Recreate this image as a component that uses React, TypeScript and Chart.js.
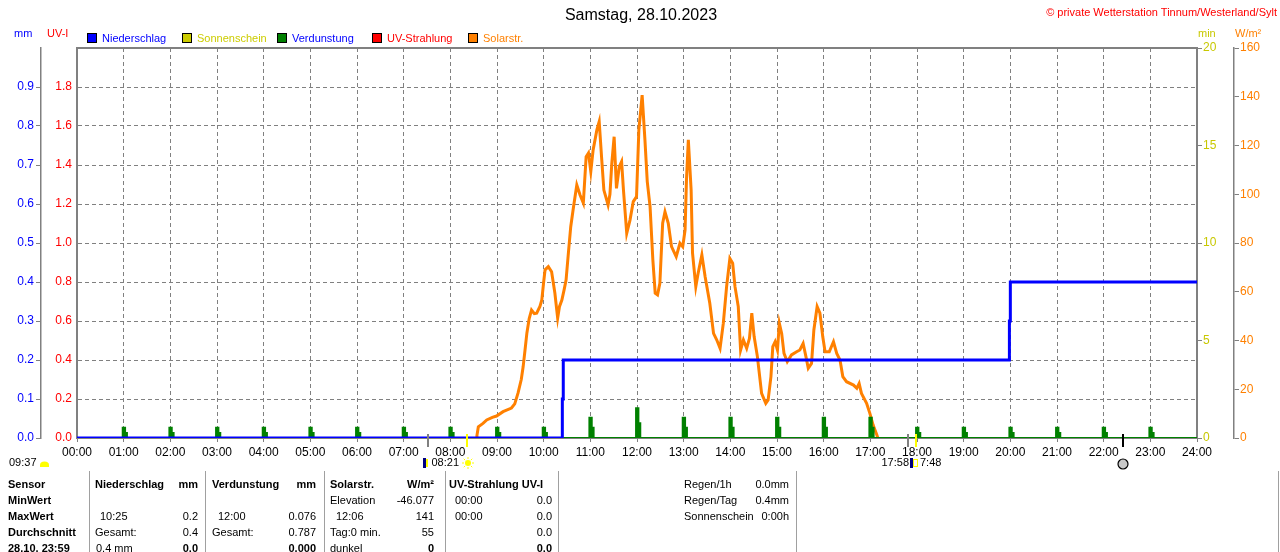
import { useEffect, useRef } from "react";
import { Chart, registerables } from "chart.js";

Chart.register(...registerables);

const FONT = "'Liberation Sans', Arial, sans-serif";

// Solarstrahlung (W/m²), Zeit in Stunden
const solarHours = [
  8.55, 8.57, 8.6, 8.7, 8.78, 8.9, 8.99, 9.13, 9.31, 9.38, 9.45, 9.52, 9.56, 9.6, 9.64, 9.69, 9.74, 9.8,
  9.85, 9.92, 9.96, 10.0, 10.03, 10.1, 10.17, 10.24, 10.3, 10.34, 10.39, 10.44, 10.48, 10.53, 10.58,
  10.64, 10.71, 10.78, 10.85, 10.91, 10.96, 11.01, 11.06, 11.14, 11.19, 11.24, 11.29, 11.33, 11.38,
  11.42, 11.46, 11.51, 11.56, 11.62, 11.67, 11.71, 11.78, 11.85, 11.92, 11.99, 12.04, 12.11, 12.17,
  12.22, 12.28, 12.34, 12.39, 12.44, 12.49, 12.55, 12.6, 12.67, 12.74, 12.84, 12.92, 12.98, 13.03,
  13.06, 13.1, 13.16, 13.19, 13.26, 13.31, 13.39, 13.46, 13.56, 13.64, 13.71, 13.78, 13.85, 13.92,
  13.99, 14.05, 14.1, 14.17, 14.22, 14.28, 14.35, 14.41, 14.46, 14.51, 14.58, 14.67, 14.76, 14.81,
  14.87, 14.91, 14.96, 15.01, 15.05, 15.1, 15.15, 15.22, 15.31, 15.42, 15.49, 15.56, 15.62, 15.67,
  15.74, 15.79, 15.86, 15.92, 15.98, 16.03, 16.12, 16.21, 16.28, 16.35, 16.41, 16.49, 16.64, 16.71,
  16.76, 16.81, 16.92, 16.99, 17.06, 17.14, 17.16,
];
const solarValues = [
  0, 1, 4.6, 6, 7.4, 8.5, 9, 10.8, 12.3, 14, 18.4, 24, 29.2, 36, 43, 49, 52.5, 51,
  51.2, 54, 56.6, 64, 69, 70.3, 68.2, 59.5, 49.2, 54, 56.6, 61, 64.8, 75.9, 86.7,
  94.9, 103.8, 99.7, 96.4, 115.4, 116.9, 109.3, 118.2, 126.4, 129.8, 115.4, 101.7, 99, 95.6,
  100, 112.7, 123.6, 102.4, 111.3, 113.4, 101.7, 84, 89.4, 97, 99, 126.4, 140.7, 122.3,
  105.2, 94.9, 73, 59.4, 58.7, 63.5, 88.1, 92.8, 88.1, 78.5, 74.4, 79.9, 78.5, 85.3,
  105.8, 122.3, 101.7, 75.8, 62.1, 67.6, 75.1, 66.2, 55.3, 42.9, 40.2, 36.8, 47.1, 62.1,
  73.7, 71.7, 62.1, 53.9, 36.1, 40.2, 36.8, 40.9, 51.2, 41.6, 33.4, 18.3, 14.2, 15.6,
  25.2, 37.5, 39.5, 36.1, 47.1, 42.9, 34.7, 31.3, 34.1, 35.4, 36.1, 38.8, 33.4, 28.6,
  30.6, 44.3, 53.9, 51.2, 41.6, 35.4, 35.4, 39.5, 34.7, 32, 25.2, 23.1, 21.7, 20.4,
  22.4, 18.3, 14.2, 10.1, 5.3, 1.2, 0,
];

// Niederschlag (mm), kumuliert
const rainHours = [0, 10.4, 10.42, 19.98, 20.0, 24];
const rainValues = [0, 0.1, 0.2, 0.3, 0.4, 0.4];

// Verdunstung (mm) je Stunde
const evapHours = [1, 2, 3, 4, 5, 6, 7, 8, 9, 10, 11, 12, 13, 14, 15, 16, 17, 18, 19, 20, 21, 22, 23];
const evapValues = [
  0.026, 0.026, 0.026, 0.026, 0.026, 0.026, 0.026, 0.026, 0.026, 0.026, 0.052, 0.076,
  0.052, 0.052, 0.052, 0.052, 0.052, 0.026, 0.026, 0.026, 0.026, 0.026, 0.026,
];

const hourLabels = [
  "00:00", "01:00", "02:00", "03:00", "04:00", "05:00", "06:00", "07:00", "08:00", "09:00",
  "10:00", "11:00", "12:00", "13:00", "14:00", "15:00", "16:00", "17:00", "18:00", "19:00",
  "20:00", "21:00", "22:00", "23:00", "24:00",
];

// Dämmerung, Sonnenauf-/untergang, Mond
const twilightHours = [7.52, 17.8];
const sunHours = [8.35, 17.97];
const moonHour = 22.41;
const dayLength = "09:37";
const sunriseText = "08:21";
const sunsetText = "17:58";
const moonText = "7:48";

const GRID = "#808080";

const sunMarks = {
  id: "sunMarks",
  afterDraw(chart: any) {
    const { ctx, chartArea, scales } = chart;
    const base = chartArea.bottom;
    const px = (h: number) => Math.round(scales.x.getPixelForValue(h));
    ctx.save();
    const tick = (h: number, color: string) => {
      ctx.strokeStyle = color;
      ctx.lineWidth = 2;
      ctx.beginPath();
      ctx.moveTo(px(h), base - 4);
      ctx.lineTo(px(h), base + 9);
      ctx.stroke();
    };
    twilightHours.forEach((h) => tick(h, GRID));
    sunHours.forEach((h) => tick(h, "#ffff00"));
    tick(moonHour, "#000000");

    const ty = 463;
    ctx.font = `11px ${FONT}`;
    ctx.fillStyle = "#000";
    ctx.textBaseline = "middle";
    ctx.textAlign = "left";
    ctx.fillText(dayLength, 9, ty);
    // kleine Wolke
    ctx.fillStyle = "#ffff00";
    ctx.beginPath();
    ctx.ellipse(44.5, 465, 4.5, 3.5, 0, Math.PI, 0);
    ctx.fill();
    ctx.fillRect(40, 465, 9, 2);

    // Sonnenaufgang
    const sr = px(sunHours[0]);
    ctx.fillStyle = "#000";
    ctx.textAlign = "right";
    ctx.fillText(sunriseText, sr - 8, ty);
    ctx.fillStyle = "#000080";
    ctx.fillRect(sr - 44, 458, 3, 10);
    ctx.fillStyle = "#ffff00";
    ctx.fillRect(sr - 41, 459, 2, 8);
    ctx.fillStyle = "#ffff00";
    ctx.beginPath();
    ctx.arc(sr + 1, ty, 3, 0, Math.PI * 2);
    ctx.fill();
    ctx.strokeStyle = "#ffff00";
    ctx.lineWidth = 1;
    for (let i = 0; i < 8; i++) {
      const a = (i * Math.PI) / 4;
      ctx.beginPath();
      ctx.moveTo(sr + 1 + Math.cos(a) * 4, ty + Math.sin(a) * 4);
      ctx.lineTo(sr + 1 + Math.cos(a) * 6, ty + Math.sin(a) * 6);
      ctx.stroke();
    }

    // Sonnenuntergang
    const ss = px(sunHours[1]);
    ctx.fillStyle = "#000";
    ctx.textAlign = "right";
    ctx.fillText(sunsetText, ss - 7, ty);
    ctx.fillStyle = "#000080";
    ctx.fillRect(ss - 6, 458, 3, 10);
    ctx.strokeStyle = "#ffff00";
    ctx.strokeRect(ss - 2.5, 459.5, 4, 7);
    ctx.fillStyle = "#000";
    ctx.textAlign = "left";
    ctx.fillText(moonText, ss + 4, ty);

    // Mond
    const mx = px(moonHour);
    ctx.fillStyle = "#c8c8c8";
    ctx.strokeStyle = "#000";
    ctx.lineWidth = 1.2;
    ctx.beginPath();
    ctx.arc(mx, 464, 5, 0, Math.PI * 2);
    ctx.fill();
    ctx.stroke();
    ctx.restore();
  },
};

function evapPoints() {
  const pts: { x: number; y: number }[] = [{ x: 0, y: 0 }];
  evapHours.forEach((h, i) => {
    const v = evapValues[i];
    pts.push({ x: h - 0.02, y: v });
    pts.push({ x: h + 0.03, y: v * 0.5 });
    pts.push({ x: h + 0.07, y: 0 });
  });
  pts.push({ x: 24, y: 0 });
  return pts;
}

function Txt(props: {
  x: number;
  y: number;
  color?: string;
  size?: number;
  bold?: boolean;
  align?: "left" | "right" | "center";
  children: any;
}) {
  const size = props.size ?? 11;
  const lh = size + 4;
  const shift = props.align === "right" ? "translateX(-100%)" : props.align === "center" ? "translateX(-50%)" : "none";
  return (
    <div
      style={{
        position: "absolute",
        left: props.x,
        top: props.y - lh / 2,
        lineHeight: `${lh}px`,
        fontSize: size,
        fontWeight: props.bold ? "bold" : "normal",
        color: props.color ?? "#000",
        whiteSpace: "nowrap",
        transform: shift,
      }}
    >
      {props.children}
    </div>
  );
}

const legendItems = [
  { label: "Niederschlag", box: "#0000ff", text: "#0000ff", x: 87 },
  { label: "Sonnenschein", box: "#cccc00", text: "#cccc00", x: 182 },
  { label: "Verdunstung", box: "#008000", text: "#0000ff", x: 277 },
  { label: "UV-Strahlung", box: "#ff0000", text: "#ff0000", x: 372 },
  { label: "Solarstr.", box: "#ff8000", text: "#ff8000", x: 468 },
];

const tableRows = [484, 500, 516, 532, 548];
const tableSeparators = [89, 205, 324, 445, 558, 796, 1278];

export default function App() {
  const canvasRef = useRef<HTMLCanvasElement | null>(null);

  useEffect(() => {
    if (!canvasRef.current) return;
    const chart = new Chart(canvasRef.current, {
      type: "line",
      data: {
        datasets: [
          {
            label: "Niederschlag",
            data: rainHours.map((h, i) => ({ x: h, y: rainValues[i] })),
            borderColor: "#0000ff",
            borderWidth: 3,
            stepped: true,
            pointRadius: 0,
            yAxisID: "yMm",
            order: 0,
          },
          {
            label: "Verdunstung",
            data: evapPoints(),
            borderColor: "#008000",
            backgroundColor: "#008000",
            borderWidth: 2,
            stepped: true,
            fill: "origin",
            pointRadius: 0,
            yAxisID: "yMm",
            order: 1,
          },
          {
            label: "Solarstr.",
            data: solarHours.map((h, i) => ({ x: h, y: solarValues[i] })),
            borderColor: "#ff8000",
            borderWidth: 3,
            pointRadius: 0,
            tension: 0,
            yAxisID: "yW",
            order: 2,
          },
        ],
      },
      options: {
        responsive: false,
        animation: false,
        layout: { padding: { top: 48, left: 0, right: 0, bottom: 0 } },
        plugins: { legend: { display: false }, tooltip: { enabled: false } },
        scales: {
          x: {
            type: "linear",
            position: "bottom",
            min: 0,
            max: 24,
            afterFit: (s: any) => {
              s.height = 34;
            },
            afterBuildTicks: (s: any) => {
              s.ticks = hourLabels.map((_, i) => ({ value: i }));
            },
            ticks: {
              autoSkip: false,
              maxRotation: 0,
              padding: 3,
              color: "#000",
              font: { family: FONT, size: 12 },
              callback: (v: any) => hourLabels[v],
            },
            grid: { color: GRID, lineWidth: 1, drawTicks: true, tickLength: 4 },
            border: { color: GRID, width: 2, dash: [4, 3] },
          },
          xTop: {
            type: "linear",
            position: "top",
            min: 0,
            max: 24,
            afterFit: (s: any) => {
              s.height = 0;
            },
            ticks: { display: false },
            grid: { display: false },
            border: { color: GRID, width: 2 },
          },
          yMm: {
            type: "linear",
            position: "left",
            weight: 2,
            min: 0,
            max: 1,
            afterFit: (s: any) => {
              s.width = 41;
            },
            ticks: {
              stepSize: 0.1,
              padding: 2,
              color: "#0000ff",
              font: { family: FONT, size: 12 },
              callback: (v: any) => (v > 0.95 ? null : Number(v).toFixed(1)),
            },
            grid: { drawOnChartArea: false, drawTicks: true, tickLength: 5, color: GRID },
            border: { color: GRID, width: 1.5 },
          },
          y: {
            type: "linear",
            position: "left",
            weight: 1,
            min: 0,
            max: 2,
            afterFit: (s: any) => {
              s.width = 36;
            },
            ticks: {
              stepSize: 0.2,
              padding: 5,
              color: "#ff0000",
              font: { family: FONT, size: 12 },
              callback: (v: any) => (v > 1.95 ? null : Number(v).toFixed(1)),
            },
            grid: { color: GRID, drawTicks: false, lineWidth: 1 },
            border: { color: GRID, width: 2, dash: [4, 3] },
          },
          yMin: {
            type: "linear",
            position: "right",
            weight: 1,
            min: 0,
            max: 20,
            afterFit: (s: any) => {
              s.width = 37;
            },
            ticks: { stepSize: 5, padding: 1, color: "#c8c800", font: { family: FONT, size: 12 } },
            grid: { drawOnChartArea: false, drawTicks: true, tickLength: 5, color: GRID },
            border: { color: GRID, width: 2 },
          },
          yW: {
            type: "linear",
            position: "right",
            weight: 2,
            min: 0,
            max: 160,
            afterFit: (s: any) => {
              s.width = 46;
            },
            ticks: { stepSize: 20, padding: 1, color: "#ff8000", font: { family: FONT, size: 12 } },
            grid: { drawOnChartArea: false, drawTicks: true, tickLength: 5, color: GRID },
            border: { color: GRID, width: 1.5 },
          },
        },
      },
      plugins: [sunMarks],
    } as any);
    return () => chart.destroy();
  }, []);

  const [r0, r1, r2, r3, r4] = tableRows;

  return (
    <div
      style={{
        position: "absolute",
        left: 0,
        top: 0,
        width: 1280,
        height: 552,
        overflow: "hidden",
        background: "#fff",
        fontFamily: FONT,
      }}
    >
      <canvas ref={canvasRef} width={1280} height={472} style={{ position: "absolute", left: 0, top: 0 }} />

      <Txt x={641} y={15} size={16} align="center">
        Samstag, 28.10.2023
      </Txt>
      <Txt x={1277} y={12} color="#ff0000" align="right">
        © private Wetterstation Tinnum/Westerland/Sylt
      </Txt>

      <Txt x={14} y={33} color="#0000ff">mm</Txt>
      <Txt x={47} y={33} color="#ff0000">UV-I</Txt>
      <Txt x={1198} y={33} color="#c8c800">min</Txt>
      <Txt x={1235} y={33} color="#ff8000">
        W/m²
      </Txt>

      {legendItems.map((it) => (
        <div key={it.label}>
          <div
            style={{
              position: "absolute",
              left: it.x,
              top: 33,
              width: 8,
              height: 8,
              background: it.box,
              border: "1px solid #000",
            }}
          />
          <Txt x={it.x + 15} y={38} color={it.text}>
            {it.label}
          </Txt>
        </div>
      ))}

      {tableSeparators.map((x) => (
        <div key={x} style={{ position: "absolute", left: x, top: 471, width: 1, height: 90, background: "#a0a0a0" }} />
      ))}

      <Txt x={8} y={r0} bold>Sensor</Txt>
      <Txt x={8} y={r1} bold>MinWert</Txt>
      <Txt x={8} y={r2} bold>MaxWert</Txt>
      <Txt x={8} y={r3} bold>Durchschnitt</Txt>
      <Txt x={8} y={r4} bold>28.10. 23:59</Txt>

      <Txt x={95} y={r0} bold>Niederschlag</Txt>
      <Txt x={198} y={r0} bold align="right">mm</Txt>
      <Txt x={100} y={r2}>10:25</Txt>
      <Txt x={198} y={r2} align="right">0.2</Txt>
      <Txt x={95} y={r3}>Gesamt:</Txt>
      <Txt x={198} y={r3} align="right">0.4</Txt>
      <Txt x={96} y={r4}>0.4 mm</Txt>
      <Txt x={198} y={r4} bold align="right">0.0</Txt>

      <Txt x={212} y={r0} bold>Verdunstung</Txt>
      <Txt x={316} y={r0} bold align="right">mm</Txt>
      <Txt x={218} y={r2}>12:00</Txt>
      <Txt x={316} y={r2} align="right">0.076</Txt>
      <Txt x={212} y={r3}>Gesamt:</Txt>
      <Txt x={316} y={r3} align="right">0.787</Txt>
      <Txt x={316} y={r4} bold align="right">0.000</Txt>

      <Txt x={330} y={r0} bold>Solarstr.</Txt>
      <Txt x={434} y={r0} bold align="right">W/m²</Txt>
      <Txt x={330} y={r1}>Elevation</Txt>
      <Txt x={434} y={r1} align="right">-46.077</Txt>
      <Txt x={336} y={r2}>12:06</Txt>
      <Txt x={434} y={r2} align="right">141</Txt>
      <Txt x={330} y={r3}>Tag:0 min.</Txt>
      <Txt x={434} y={r3} align="right">55</Txt>
      <Txt x={330} y={r4}>dunkel</Txt>
      <Txt x={434} y={r4} bold align="right">0</Txt>

      <Txt x={449} y={r0} bold>UV-Strahlung UV-I</Txt>
      <Txt x={455} y={r1}>00:00</Txt>
      <Txt x={552} y={r1} align="right">0.0</Txt>
      <Txt x={455} y={r2}>00:00</Txt>
      <Txt x={552} y={r2} align="right">0.0</Txt>
      <Txt x={552} y={r3} align="right">0.0</Txt>
      <Txt x={552} y={r4} bold align="right">0.0</Txt>

      <Txt x={684} y={r0}>Regen/1h</Txt>
      <Txt x={789} y={r0} align="right">0.0mm</Txt>
      <Txt x={684} y={r1}>Regen/Tag</Txt>
      <Txt x={789} y={r1} align="right">0.4mm</Txt>
      <Txt x={684} y={r2}>Sonnenschein</Txt>
      <Txt x={789} y={r2} align="right">0:00h</Txt>
    </div>
  );
}
